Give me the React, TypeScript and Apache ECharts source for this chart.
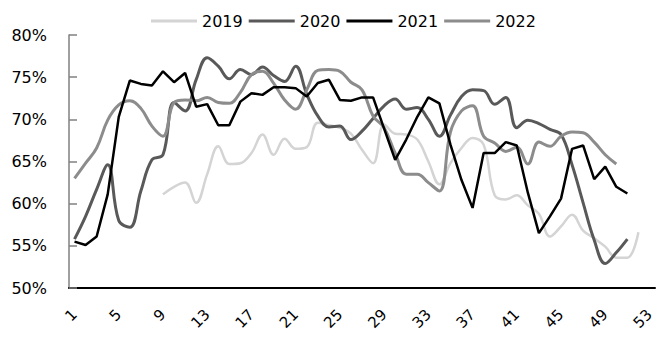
import React, { useEffect, useRef } from "react";
import * as echarts from "echarts";

const weeks = [
  "1","2","3","4","5","6","7","8","9","10","11","12","13","14","15","16","17","18","19","20",
  "21","22","23","24","25","26","27","28","29","30","31","32","33","34","35","36","37","38","39","40",
  "41","42","43","44","45","46","47","48","49","50","51","52","53",
];

const seriesNames = ["2019", "2020", "2021", "2022"];

// 2019 starts at week 9, ends at week 52
const y2019 = [
  null, null, null, null, null, null, null, null,
  61.1, 62.0, 62.5, 60.1, 63.5, 66.8, 64.7, 64.8, 66.0, 68.2, 65.8, 67.7,
  66.5, 66.7, 69.6, 69.3, 69.0, 68.3, 66.4, 64.8, 69.4, 68.3,
  68.2, 67.6, 65.0, 62.3, 64.8, 66.6, 67.8, 67.0, 61.0, 60.5,
  61.0, 59.8, 58.8, 56.1, 57.3, 58.7, 56.8, 55.9, 54.9, 53.6, 53.6, 56.6,
];

const y2020 = [
  55.8, 58.5, 61.7, 64.6, 58.0, 57.2, 61.5, 65.2, 65.8, 72.0,
  71.0, 74.7, 77.3, 76.3, 74.8, 75.9, 75.3, 76.2, 75.2, 74.5,
  76.3, 73.0, 70.4, 69.1, 69.2, 67.6, 68.6, 70.1, 71.6, 72.4,
  71.2, 71.4, 70.0, 68.0, 70.5, 72.7, 73.5, 73.4, 71.8, 72.6,
  69.0, 69.9, 69.5, 68.8, 68.2, 64.6, 60.1, 55.7, 52.9, 54.2, 55.8,
];

const y2021 = [
  55.5, 55.1, 56.1, 61.1, 70.3, 74.6, 74.2, 74.0, 75.7, 74.4,
  75.5, 71.5, 71.8, 69.3, 69.3, 72.1, 73.1, 72.9, 73.8, 73.8,
  73.7, 72.7, 74.3, 74.7, 72.3, 72.2, 72.6, 72.6, 68.9, 65.2,
  67.6, 70.3, 72.6, 71.9, 67.0, 62.8, 59.5, 66.0, 66.0, 67.3,
  66.9, 61.3, 56.5, 58.5, 60.6, 66.5, 66.9, 62.9, 64.4, 62.0, 61.2,
];

const y2022 = [
  63.0, 64.8, 66.6, 69.9, 71.7, 72.2, 71.3, 69.2, 68.0, 72.0,
  72.3, 72.2, 72.6, 72.0, 71.9, 73.2, 75.3, 75.7, 74.3, 72.3,
  71.2, 73.5, 75.8, 75.9, 75.7, 74.4, 73.5, 70.4, 69.0, 66.0,
  63.5, 63.5, 62.5, 61.5, 68.5, 71.0, 71.6, 68.0, 67.2, 66.2,
  66.7, 64.7, 67.3, 66.8, 68.0, 68.5, 68.4, 67.3, 65.8, 64.7,
];

const colors = ["#d4d4d4", "#595959", "#000000", "#8c8c8c"];
const widths = [2.5, 3, 2.5, 3];
const smoothFlags = [true, true, false, true];
const allData = [y2019, y2020, y2021, y2022];

const FONT = "DejaVu Sans";

export default function App() {
  const ref = useRef<HTMLDivElement>(null);
  useEffect(() => {
    document.body.style.margin = "0";
    if (!ref.current) return;
    const chart = echarts.init(ref.current, null, { renderer: "svg" });
    chart.setOption({
      animation: false,
      textStyle: { fontFamily: FONT },
      grid: { left: 69, right: 9, top: 35, bottom: 64, containLabel: false },
      legend: {
        data: seriesNames.map((n) => ({ name: n, icon: "rect" })),
        left: 146,
        top: 8,
        itemWidth: 46,
        itemHeight: 3,
        itemGap: 6,
        textStyle: { fontSize: 16, color: "#000", fontFamily: FONT },
      },
      xAxis: {
        type: "category",
        data: weeks,
        boundaryGap: true,
        axisLine: { lineStyle: { color: "#000", width: 2 } },
        axisTick: { inside: true, length: 6, interval: 4, lineStyle: { color: "#000", width: 1.5 } },
        axisLabel: { interval: 3, rotate: 45, fontSize: 15, color: "#000", margin: 24, fontFamily: FONT },
        splitLine: { show: false },
      },
      yAxis: {
        type: "value",
        min: 50,
        max: 80,
        interval: 5,
        splitLine: { show: false },
        axisLine: { show: true, lineStyle: { color: "#808080", width: 1.5 } },
        axisTick: { show: true, inside: true, length: 8, lineStyle: { color: "#808080", width: 1.5 } },
        axisLabel: { formatter: "{value}%", fontSize: 16, color: "#000", margin: 22, fontFamily: FONT },
      },
      series: seriesNames.map((name, i) => ({
        name,
        type: "line",
        data: allData[i],
        symbol: "none",
        smooth: smoothFlags[i] ? 0.4 : false,
        connectNulls: false,
        lineStyle: { color: colors[i], width: widths[i] },
        itemStyle: { color: colors[i] },
        z: i === 2 ? 5 : 3,
      })),
    });
    return () => chart.dispose();
  }, []);
  return <div ref={ref} style={{ width: 664, height: 352 }} />;
}
